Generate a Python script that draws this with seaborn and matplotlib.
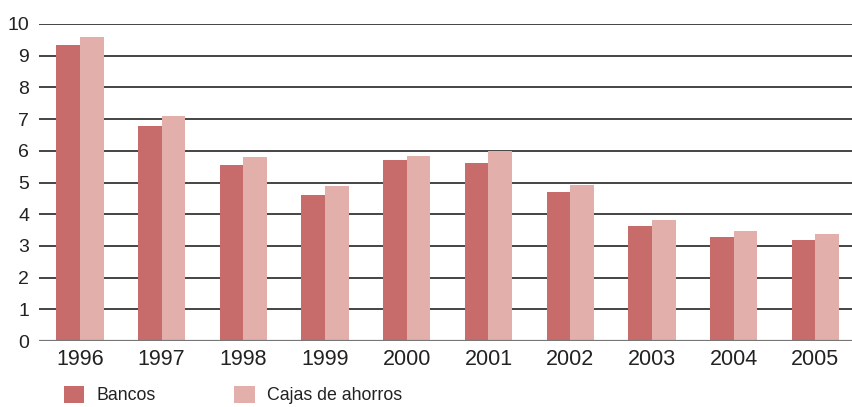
import matplotlib
matplotlib.use("Agg")
import matplotlib.pyplot as plt
import seaborn as sns
import pandas as pd

years = ["1996", "1997", "1998", "1999", "2000", "2001", "2002", "2003", "2004", "2005"]
bancos = [9.34, 6.78, 5.55, 4.60, 5.71, 5.62, 4.70, 3.63, 3.28, 3.19]
cajas = [9.59, 7.10, 5.80, 4.89, 5.84, 5.99, 4.92, 3.82, 3.47, 3.38]
series = ["Bancos", "Cajas de ahorros"]
colors = ["#C76B6B", "#E3AFAA"]

df = pd.DataFrame({
    "year": years * 2,
    "value": bancos + cajas,
    "serie": [series[0]] * len(years) + [series[1]] * len(years),
})

sns.set_style("white")
plt.rcParams["font.family"] = ["Liberation Sans", "DejaVu Sans"]

fig = plt.figure(figsize=(8.53, 4.07), dpi=100)
ax = fig.add_axes([39 / 853, 1 - 341 / 407, 1 - 39 / 853, (341 - 24) / 407])

sns.barplot(
    data=df,
    x="year",
    y="value",
    hue="serie",
    palette=colors,
    width=0.58,
    saturation=1,
    linewidth=0,
    ax=ax,
    zorder=2,
)

ax.set_ylim(0, 10)
ax.set_xlim(-0.5, 9.46)
ax.set_yticks(range(0, 11))
ax.yaxis.grid(True, color="#444444", linewidth=1.4, zorder=1)
ax.xaxis.grid(False)
ax.set_axisbelow(True)
ax.axhline(0, color="#777777", linewidth=1.6, zorder=3)
for s in ax.spines.values():
    s.set_visible(False)
ax.tick_params(axis="both", length=0, colors="#222222")
ax.tick_params(axis="y", pad=7, labelsize=14)
ax.tick_params(axis="x", pad=6, labelsize=15.5)
ax.set_xlabel("")
ax.set_ylabel("")

handles, labels = ax.get_legend_handles_labels()
ax.get_legend().remove()
fig.legend(
    handles, labels,
    loc="center left",
    bbox_to_anchor=(48 / 853, 1 - 395 / 407),
    ncol=2,
    frameon=False,
    fontsize=12.8,
    handlelength=1.15,
    handleheight=1.1,
    handletextpad=0.7,
    columnspacing=4.4,
    labelcolor="#222222",
)

fig.savefig("out.png", dpi=100)
